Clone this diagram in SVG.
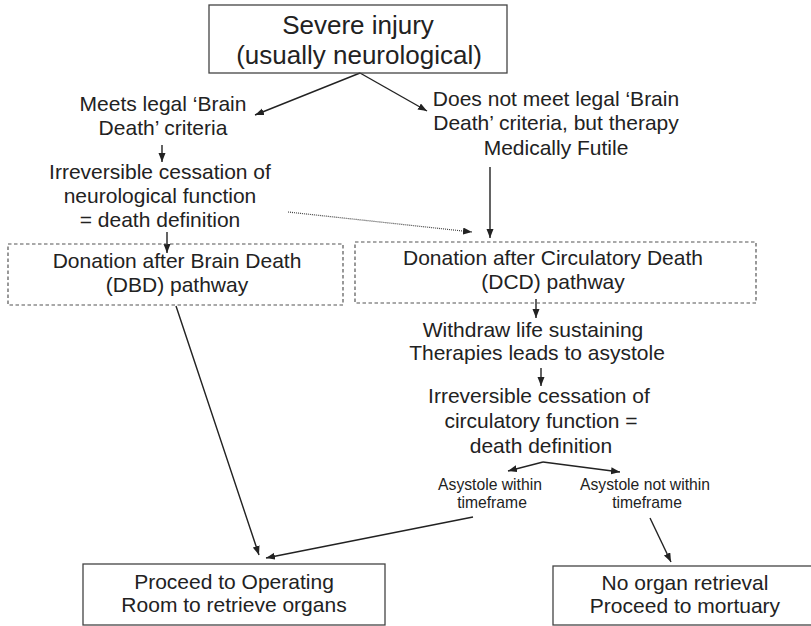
<svg xmlns="http://www.w3.org/2000/svg" width="811" height="626" viewBox="0 0 811 626">
<style>
text{font-family:"Liberation Sans",Arial,sans-serif;fill:#222;text-anchor:middle}
.t21{font-size:21px}
.t26{font-size:26px}
.t16{font-size:15.7px}
.box{fill:none;stroke:#444;stroke-width:1.3}
.dbox{fill:none;stroke:#555;stroke-width:1.2;stroke-dasharray:3.5 2.5}
.ln{fill:none;stroke:#222;stroke-width:1.4}
.dot{fill:none;stroke:#444;stroke-width:1.2;stroke-dasharray:1 1}
</style>
<defs>
<marker id="ah" markerUnits="userSpaceOnUse" markerWidth="10" markerHeight="8" refX="9" refY="3.5" orient="auto">
<path d="M0,0 L9,3.5 L0,7 z" fill="#222"/>
</marker>
</defs>
<rect width="811" height="626" fill="#fff"/>
<g id="connectors">
<line class="ln" x1="360" y1="73" x2="255" y2="115" marker-end="url(#ah)"/>
<line class="ln" x1="360" y1="73" x2="427" y2="111" marker-end="url(#ah)"/>
<line class="ln" x1="162" y1="145" x2="162" y2="162" marker-end="url(#ah)"/>
<line class="ln" x1="490" y1="167" x2="490" y2="238" marker-end="url(#ah)"/>
<line class="dot" x1="288" y1="212" x2="472" y2="232" marker-end="url(#ah)"/>
<line class="ln" x1="167" y1="232" x2="167" y2="253" marker-end="url(#ah)"/>
<line class="ln" x1="536" y1="299" x2="536" y2="318" marker-end="url(#ah)"/>
<line class="ln" x1="541" y1="368" x2="541" y2="386" marker-end="url(#ah)"/>
<line class="ln" x1="543" y1="462" x2="508" y2="471" marker-end="url(#ah)"/>
<line class="ln" x1="543" y1="462" x2="620" y2="472" marker-end="url(#ah)"/>
<line class="ln" x1="176" y1="306" x2="259" y2="555" marker-end="url(#ah)"/>
<line class="ln" x1="473" y1="517" x2="266" y2="558" marker-end="url(#ah)"/>
<line class="ln" x1="650" y1="518" x2="671" y2="562" marker-end="url(#ah)"/>
</g>
<g id="severe-injury">
<rect class="box" x="209" y="5" width="298" height="68"/>
<text class="t26" x="358" y="34">Severe injury</text>
<text class="t26" x="359" y="64">(usually neurological)</text>
</g>
<g id="meets-criteria">
<text class="t21" x="163" y="111">Meets legal ‘Brain</text>
<text class="t21" x="163" y="135">Death’ criteria</text>
</g>
<g id="does-not-meet">
<text class="t21" x="556" y="106">Does not meet legal ‘Brain</text>
<text class="t21" x="556" y="130">Death’ criteria, but therapy</text>
<text class="t21" x="556" y="155">Medically Futile</text>
</g>
<g id="neuro-death">
<text class="t21" x="160" y="179">Irreversible cessation of</text>
<text class="t21" x="160" y="203">neurological function</text>
<text class="t21" x="160" y="227">= death definition</text>
</g>
<g id="dbd">
<rect class="dbox" x="8" y="244" width="335" height="61"/>
<text class="t21" x="177" y="268">Donation after Brain Death</text>
<text class="t21" x="177" y="292">(DBD) pathway</text>
</g>
<g id="dcd">
<rect class="dbox" x="355" y="242" width="401" height="61"/>
<text class="t21" x="553" y="265">Donation after Circulatory Death</text>
<text class="t21" x="553" y="289">(DCD) pathway</text>
</g>
<g id="withdraw">
<text class="t21" x="533" y="337">Withdraw life sustaining</text>
<text class="t21" x="537" y="360">Therapies leads to asystole</text>
</g>
<g id="circ-death">
<text class="t21" x="539" y="403">Irreversible cessation of</text>
<text class="t21" x="541" y="428">circulatory function =</text>
<text class="t21" x="541" y="453">death definition</text>
</g>
<g id="asystole-within">
<text class="t16" x="490" y="490">Asystole within</text>
<text class="t16" x="492" y="508">timeframe</text>
</g>
<g id="asystole-not-within">
<text class="t16" x="645" y="490">Asystole not within</text>
<text class="t16" x="647" y="508">timeframe</text>
</g>
<g id="operating-room">
<rect class="box" x="83" y="564" width="302" height="61"/>
<text class="t21" x="234" y="589">Proceed to Operating</text>
<text class="t21" x="234" y="612">Room to retrieve organs</text>
</g>
<g id="no-retrieval">
<rect class="box" x="553" y="566" width="300" height="59"/>
<text class="t21" x="685" y="590">No organ retrieval</text>
<text class="t21" x="685" y="613">Proceed to mortuary</text>
</g>
</svg>
